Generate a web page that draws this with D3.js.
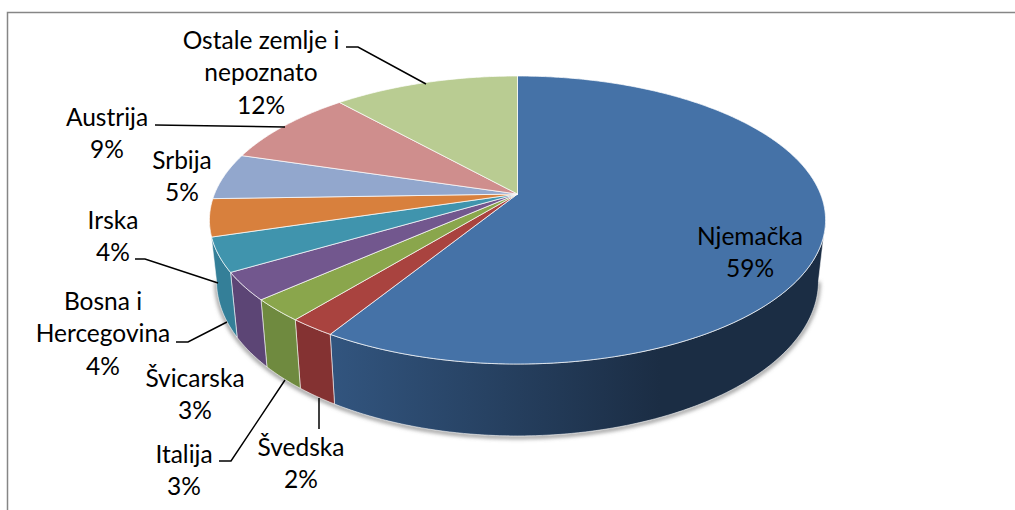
<!DOCTYPE html>
<html lang="hr">
<head>
<meta charset="UTF-8">
<title>3D pie</title>
<script src="https://d3js.org/d3.v7.min.js"></script>
<style>
    html, body { margin: 0; padding: 0; background: #fff; overflow: hidden; }
    text { font-family: Lato, "Open Sans", sans-serif; font-size: 24.5px; fill: #000; text-anchor: middle; }
</style>
</head>
<body>
<svg width="1015" height="510"></svg>
<script>
// values
const categories = ["Njemačka", "Švedska", "Italija", "Švicarska", "Bosna i Hercegovina", "Irska", "Srbija", "Austrija", "Ostale zemlje i nepoznato"];
const shares = [58.7, 2.1, 2.5, 3.1, 3.8, 4.2, 5.2, 8.7, 11.6];
const shareLabels = ["59%", "2%", "3%", "3%", "4%", "4%", "5%", "9%", "12%"];
const topColors = ["#4572a7", "#a9433f", "#8aa64c", "#72578e", "#4094ad", "#d8803d", "#92a7cd", "#cf8e8d", "#b9cc92"];
const wallColors = ["#2d4b73", "#843232", "#6f8a3f", "#5c4575", "#347f98", "#d8803d", "#92a7cd", "#cf8e8d", "#b9cc92"];

// label layout: centre x, first baseline, wrapped lines, leader line
const labelLayout = [
    { x: 750, y: 245, lines: ["Njemačka"] },
    { x: 301, y: 456, lines: ["Švedska"], leader: [[319, 398], [319, 429]] },
    { x: 184, y: 463, lines: ["Italija"], leader: [[219, 461], [231, 461], [285, 380]] },
    { x: 195, y: 387, lines: ["Švicarska"] },
    { x: 103, y: 310, lines: ["Bosna i", "Hercegovina"], leader: [[176, 342], [188, 342], [227, 322]] },
    { x: 113, y: 229, lines: ["Irska"], leader: [[135, 259], [145, 259], [218, 283]] },
    { x: 182, y: 169, lines: ["Srbija"] },
    { x: 107, y: 126, lines: ["Austrija"], leader: [[155, 125], [285, 127]] },
    { x: 261, y: 49, lines: ["Ostale zemlje i", "nepoznato"], leader: [[346, 47], [358, 47], [426, 84]] }
];
const lineHeight = 32.3;

// the disc is a circle seen in perspective, so the pie centre is above the ellipse centre
const cx = 517.5, cy = 194;
const persp = 0.1806, scaleU = 303, scaleV = 139.3;
// lower rim of the disc, relative to the upper one
const rimShrink = 0.977, rimStretch = 1.076, rimDrop = 59;

function project(a) {
    const u = Math.sin(a), v = Math.cos(a), w = 1 + persp * v;
    return [cx + scaleU * u / w, cy - scaleV * v / w];
}
function lowered(p) {
    return [cx + rimShrink * (p[0] - cx), cy + rimDrop + rimStretch * (p[1] - cy)];
}
function arcPoints(a0, a1) {
    const n = Math.max(2, Math.ceil((a1 - a0) / 0.01));
    return d3.range(n + 1).map(i => project(a0 + (a1 - a0) * i / n));
}

const svg = d3.select("svg");
const line = d3.line();

const arcs = d3.pie().sort(null).startAngle(0).endAngle(2 * Math.PI)(shares);

// angles where the side of the disc starts and stops being visible
const sideStart = Math.PI - Math.acos(persp);
const sideEnd = Math.PI + Math.acos(persp);

const defs = svg.append("defs");
const blur = defs.append("filter").attr("id", "soft")
    .attr("x", "-5%").attr("y", "-5%").attr("width", "110%").attr("height", "110%");
blur.append("feGaussianBlur").attr("stdDeviation", 2);

const blueSide = defs.append("linearGradient").attr("id", "blueSide")
    .attr("gradientUnits", "userSpaceOnUse")
    .attr("x1", 330).attr("x2", 660).attr("y1", 0).attr("y2", 0);
blueSide.append("stop").attr("offset", 0).attr("stop-color", "#32557f");
blueSide.append("stop").attr("offset", 1).attr("stop-color", "#1b2d44");

// chart frame, cut by the right and bottom of the image
svg.append("path")
    .attr("d", line([[7.5, 510], [7.5, 12.5], [1015, 12.5]]))
    .attr("fill", "none").attr("stroke", "#868686").attr("stroke-width", 1.5);

// only slices on the front half have a side. The one holding the left turning
// point shows nothing of its own, its neighbour is drawn up to that point.
const sides = arcs.filter(d => d.startAngle < sideEnd && d.endAngle > sideStart)
    .map(d => ({ index: d.index, a0: Math.max(d.startAngle, sideStart), a1: d.endAngle }))
    .filter(d => d.a1 <= sideEnd || d.a0 > sideEnd);
sides[sides.length - 1].a1 = sideEnd;

function sidePath(d) {
    const top = arcPoints(d.a0, d.a1);
    return line(top.concat(top.map(lowered).reverse())) + "Z";
}

// soft shadow under the side
svg.append("path")
    .attr("d", line(arcPoints(sideStart, sideEnd).map(lowered).map(p => [p[0], p[1] + 1])))
    .attr("fill", "none").attr("stroke", "#777").attr("stroke-width", 3).attr("filter", "url(#soft)");

svg.append("g").selectAll("path")
    .data(sides)
    .enter().append("path")
    .attr("d", sidePath)
    .attr("fill", d => d.index === 0 ? "url(#blueSide)" : wallColors[d.index])
    .attr("stroke", "#fff").attr("stroke-opacity", 0.55).attr("stroke-width", 1);

svg.append("g").selectAll("path")
    .data(arcs)
    .enter().append("path")
    .attr("d", d => line([[cx, cy]].concat(arcPoints(d.startAngle, d.endAngle))) + "Z")
    .attr("fill", d => topColors[d.index])
    .attr("stroke", "#fff").attr("stroke-opacity", 0.7).attr("stroke-width", 1);

// leader lines
svg.append("g").selectAll("path")
    .data(labelLayout.filter(d => d.leader))
    .enter().append("path")
    .attr("d", d => line(d.leader))
    .attr("fill", "none").attr("stroke", "#000").attr("stroke-width", 1.5);

// labels
const labels = svg.append("g").selectAll("text")
    .data(labelLayout)
    .enter().append("text")
    .attr("x", d => d.x)
    .attr("y", d => d.y);
labels.selectAll("tspan")
    .data((d, i) => d.lines.concat(shareLabels[i]).map(t => ({ t, x: d.x })))
    .enter().append("tspan")
    .attr("x", d => d.x)
    .attr("dy", (d, i) => i ? lineHeight : 0)
    .text(d => d.t);
</script>
</body>
</html>
